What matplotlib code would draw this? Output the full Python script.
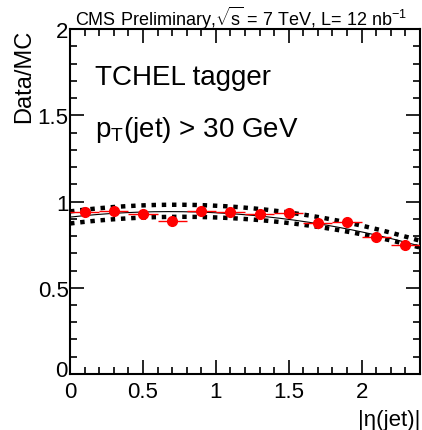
import matplotlib
matplotlib.use("Agg")
import matplotlib.pyplot as plt
import matplotlib.transforms as mtransforms
import numpy as np
from matplotlib.ticker import MultipleLocator

plt.rcParams['font.family'] = ['Liberation Sans', 'DejaVu Sans']
plt.rcParams['mathtext.fontset'] = 'custom'
plt.rcParams['mathtext.rm'] = 'Liberation Sans'
plt.rcParams['mathtext.it'] = 'Liberation Sans:italic'

# data points (ratio data/MC vs |eta|)
eta = [0.1, 0.3, 0.5, 0.7, 0.9, 1.1, 1.3, 1.5, 1.7, 1.9, 2.1, 2.3]
ratio = [0.937, 0.943, 0.927, 0.885, 0.947, 0.937, 0.927, 0.931, 0.873, 0.879, 0.796, 0.746]
eta_err = [0.1] * 12
ratio_err = [0.012, 0.010, 0.010, 0.010, 0.010, 0.010, 0.010, 0.010, 0.010, 0.012, 0.012, 0.012]

# quadratic fit coefficients (a, b, c): central and +/- band
fit_central = [0.910, 0.0929, -0.0679]
fit_upper = [0.943, 0.1072, -0.0742]
fit_lower = [0.873, 0.1014, -0.0664]

fig = plt.figure(figsize=(4.22, 4.31), dpi=100)
ax = fig.add_axes([0.166, 0.130, 0.829, 0.800])

xx = np.linspace(0, 2.4, 200)
def poly(c, x):
    return c[0] + c[1] * x + c[2] * x ** 2

ax.plot(xx, poly(fit_upper, xx), color='black', lw=3.2, ls=(0, (1, 1.3)))
ax.plot(xx, poly(fit_lower, xx), color='black', lw=3.2, ls=(0, (1, 1.3)))
ax.plot(xx, poly(fit_central, xx), color='black', lw=0.8)
ax.errorbar(eta, ratio, xerr=eta_err, yerr=ratio_err, fmt='o', color='red',
            ms=7, elinewidth=1, capsize=0, zorder=5)

ax.set_xlim(0, 2.4)
ax.set_ylim(0, 2)
ax.xaxis.set_minor_locator(MultipleLocator(0.1))
ax.yaxis.set_minor_locator(MultipleLocator(0.1))
ax.tick_params(which='both', direction='in', top=True, right=True, width=1.2)
ax.tick_params(which='major', length=10, labelsize=16)
ax.tick_params(axis='x', which='major', pad=5)
ax.tick_params(axis='y', which='major', pad=1)
ax.tick_params(which='minor', length=5)
ax.set_xticks([0, 0.5, 1, 1.5, 2])
ax.set_xticklabels(['0', '0.5', '1', '1.5', '2'])
ax.set_yticks([0, 0.5, 1, 1.5, 2])
ax.set_yticklabels(['0', '0.5', '1', '1.5', '2'])
# lift the y "0" a little so it clears the x "0"
lab0 = ax.get_yticklabels()[0]
lab0.set_transform(lab0.get_transform() +
                   mtransforms.ScaledTranslation(-1 / 72, 4 / 72, fig.dpi_scale_trans))
for s in ax.spines.values():
    s.set_linewidth(1.5)

ax.set_ylabel('Data/MC', fontsize=17, loc='top', labelpad=2)
ax.set_xlabel('|η(jet)|', fontsize=16, loc='right', labelpad=5)

fig.text(0.178, 0.94, r'CMS Preliminary,$\sqrt{\rm s}$ = 7 TeV, L= 12 nb$^{-1}$', fontsize=13)
ax.text(0.07, 0.84, 'TCHEL tagger', fontsize=20, transform=ax.transAxes)
ax.text(0.07, 0.69, r'p$_{\rm T}$(jet) > 30 GeV', fontsize=20, transform=ax.transAxes)

fig.savefig('out.png', dpi=100)
